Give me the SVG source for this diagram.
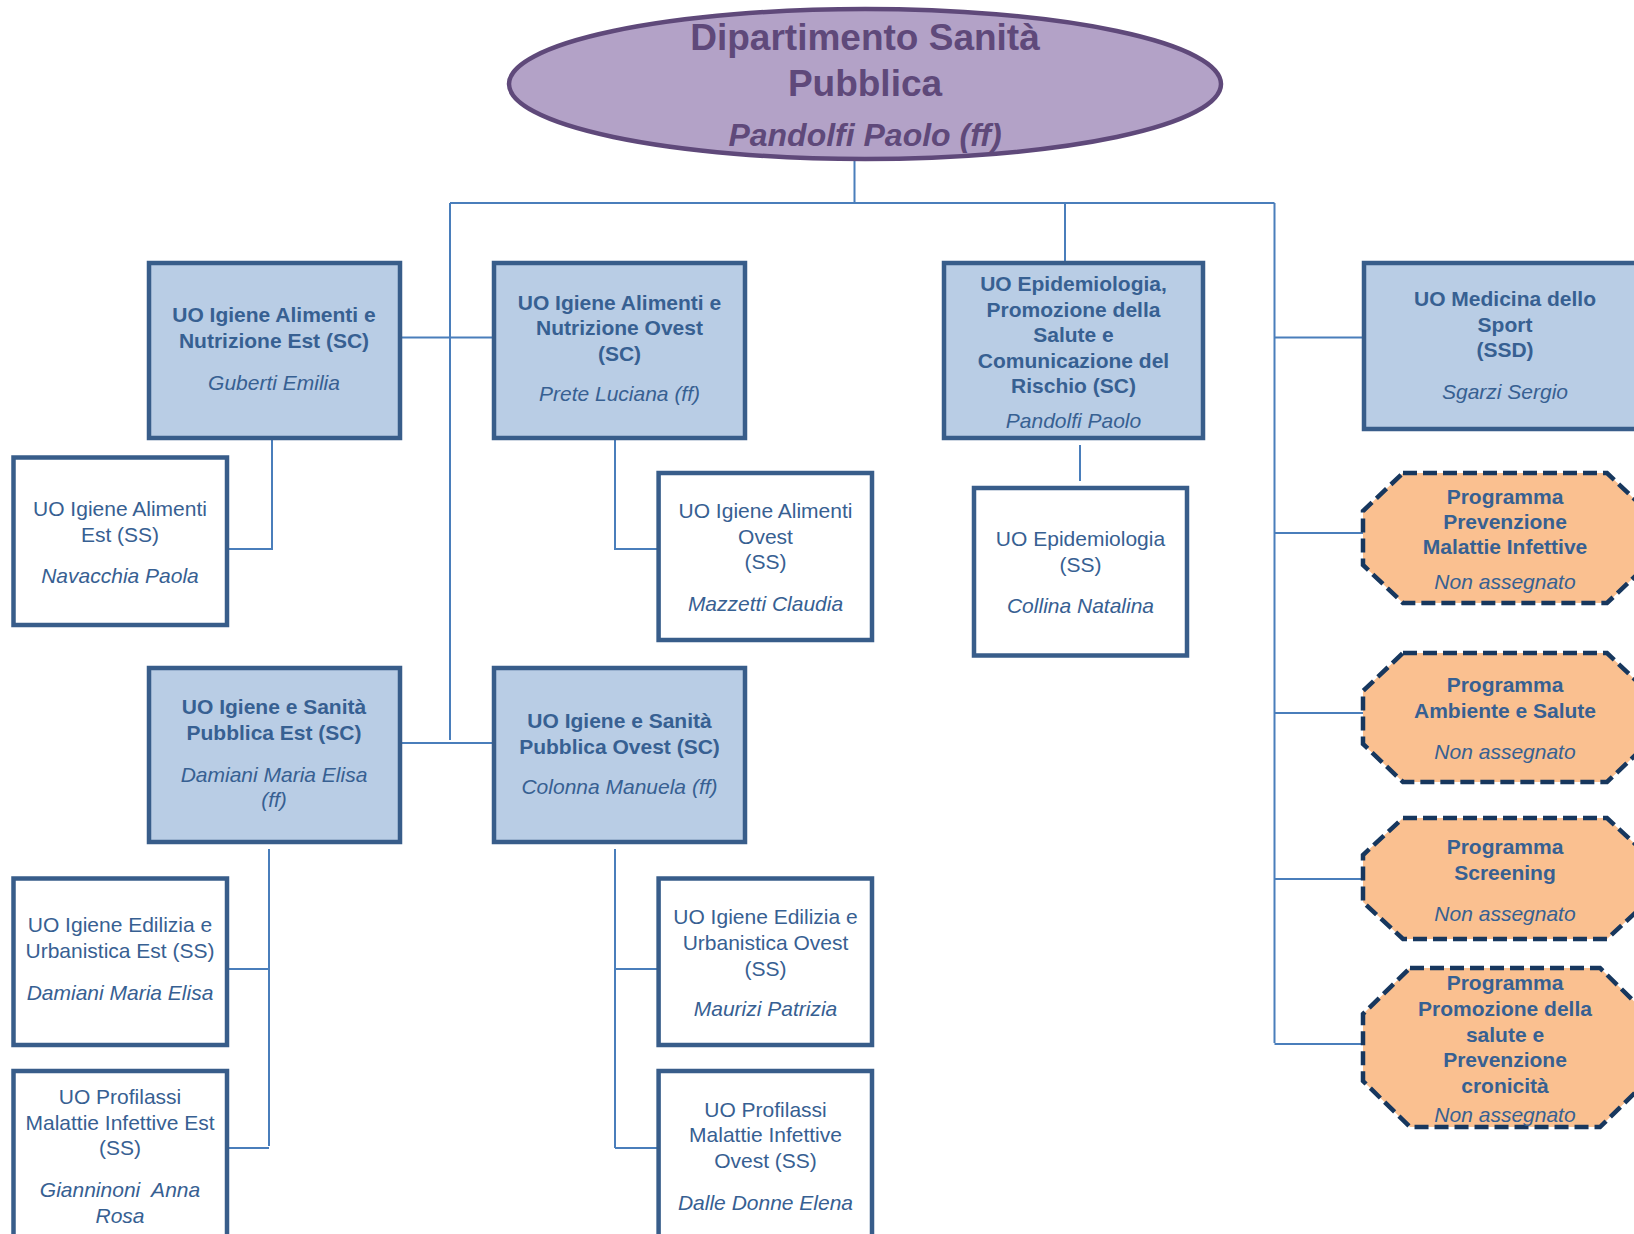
<svg xmlns="http://www.w3.org/2000/svg" width="1634" height="1234" viewBox="0 0 1634 1234">
<style>
text{font-family:"Liberation Sans",Arial,sans-serif;text-anchor:middle;}
.b{font-size:21px;font-weight:bold;fill:#376092;}
.r{font-size:21px;fill:#376092;}
.n{font-size:21px;font-style:italic;fill:#376092;}
.sc{fill:#B9CDE5;stroke:#385D8A;stroke-width:4.5;}
.ss{fill:#FFFFFF;stroke:#385D8A;stroke-width:4.5;}
.oc{fill:#FAC090;stroke:#17375E;stroke-width:4.5;stroke-dasharray:14 6;}
.c{fill:none;stroke:#4A7EBB;stroke-width:2;}
.t{fill:#5F497A;font-weight:bold;}
</style>
<rect width="1634" height="1234" fill="#FFFFFF"/>
<g id="connectors">
<path class="c" d="M854.5,159 V203 M450,203 H1274.5 M450,203 V740 M1065,203 V262 M1274.5,203 V1043"/>
<path class="c" d="M1274.5,337.6 H1364 M1274.5,533 H1363 M1274.5,713 H1363 M1274.5,879 H1363 M1274.5,1044 H1363"/>
<path class="c" d="M400,337.6 H494 M400,743 H494"/>
<path class="c" d="M272,438 V549 H227 M615,430 V549 H658.6 M1080,445 V481"/>
<path class="c" d="M269,849 V1146 M227,969 H269 M227,1148 H269 M615,849 V1148 M615,969 H658.6 M615,1148 H658.6"/>
</g>
<g id="dipartimento">
<ellipse cx="865" cy="84" rx="356" ry="75" fill="#B3A2C7" stroke="#5F497A" stroke-width="4.5"/>
<text class="t" x="865" y="50" font-size="37">Dipartimento Sanità</text>
<text class="t" x="865" y="96" font-size="37">Pubblica</text>
<text class="t" x="865" y="146" font-size="32" font-style="italic">Pandolfi Paolo (ff)</text>
</g>
<g id="ian-est">
<rect class="sc" x="149" y="263" width="251" height="175"/>
<text class="b" x="274" y="322">UO Igiene Alimenti e</text>
<text class="b" x="274" y="348">Nutrizione Est (SC)</text>
<text class="n" x="274" y="390">Guberti Emilia</text>
</g>
<g id="ian-ovest">
<rect class="sc" x="494" y="263" width="251" height="175"/>
<text class="b" x="619.5" y="310">UO Igiene Alimenti e</text>
<text class="b" x="619.5" y="335">Nutrizione Ovest</text>
<text class="b" x="619.5" y="361">(SC)</text>
<text class="n" x="619.5" y="401">Prete Luciana (ff)</text>
</g>
<g id="epidemiologia-sc">
<rect class="sc" x="944" y="263" width="259" height="175"/>
<text class="b" x="1073.5" y="291">UO Epidemiologia,</text>
<text class="b" x="1073.5" y="317">Promozione della</text>
<text class="b" x="1073.5" y="342">Salute e</text>
<text class="b" x="1073.5" y="368">Comunicazione del</text>
<text class="b" x="1073.5" y="393">Rischio (SC)</text>
<text class="n" x="1073.5" y="428">Pandolfi Paolo</text>
</g>
<g id="medicina-sport">
<rect class="sc" x="1364" y="263" width="290" height="166"/>
<text class="b" x="1505" y="306">UO Medicina dello</text>
<text class="b" x="1505" y="332">Sport</text>
<text class="b" x="1505" y="357">(SSD)</text>
<text class="n" x="1505" y="399">Sgarzi Sergio</text>
</g>
<g id="ia-est">
<rect class="ss" x="13.5" y="457.5" width="213.5" height="167.5"/>
<text class="r" x="120" y="516">UO Igiene Alimenti</text>
<text class="r" x="120" y="542">Est (SS)</text>
<text class="n" x="120" y="583">Navacchia Paola</text>
</g>
<g id="ia-ovest">
<rect class="ss" x="658.6" y="473" width="213.4" height="167"/>
<text class="r" x="765.5" y="518">UO Igiene Alimenti</text>
<text class="r" x="765.5" y="544">Ovest</text>
<text class="r" x="765.5" y="569">(SS)</text>
<text class="n" x="765.5" y="611">Mazzetti Claudia</text>
</g>
<g id="epidemiologia-ss">
<rect class="ss" x="974" y="488" width="213" height="167.5"/>
<text class="r" x="1080.5" y="546">UO Epidemiologia</text>
<text class="r" x="1080.5" y="572">(SS)</text>
<text class="n" x="1080.5" y="613">Collina Natalina</text>
</g>
<g id="isp-est">
<rect class="sc" x="149" y="668" width="251" height="174"/>
<text class="b" x="274" y="714">UO Igiene e Sanità</text>
<text class="b" x="274" y="740">Pubblica Est (SC)</text>
<text class="n" x="274" y="782">Damiani Maria Elisa</text>
<text class="n" x="274" y="807">(ff)</text>
</g>
<g id="isp-ovest">
<rect class="sc" x="494" y="668" width="251" height="174"/>
<text class="b" x="619.5" y="728">UO Igiene e Sanità</text>
<text class="b" x="619.5" y="754">Pubblica Ovest (SC)</text>
<text class="n" x="619.5" y="794">Colonna Manuela (ff)</text>
</g>
<g id="ieu-est">
<rect class="ss" x="13.5" y="878.5" width="213.5" height="166.5"/>
<text class="r" x="120" y="932">UO Igiene Edilizia e</text>
<text class="r" x="120" y="958">Urbanistica Est (SS)</text>
<text class="n" x="120" y="1000">Damiani Maria Elisa</text>
</g>
<g id="ieu-ovest">
<rect class="ss" x="658.6" y="878.5" width="213.4" height="166.5"/>
<text class="r" x="765.5" y="924">UO Igiene Edilizia e</text>
<text class="r" x="765.5" y="950">Urbanistica Ovest</text>
<text class="r" x="765.5" y="976">(SS)</text>
<text class="n" x="765.5" y="1016">Maurizi Patrizia</text>
</g>
<g id="pmi-est">
<rect class="ss" x="13.5" y="1071" width="213.5" height="175"/>
<text class="r" x="120" y="1104">UO Profilassi</text>
<text class="r" x="120" y="1130">Malattie Infettive Est</text>
<text class="r" x="120" y="1155">(SS)</text>
<text class="n" x="120" y="1197" style="white-space:pre">Gianninoni  Anna</text>
<text class="n" x="120" y="1223">Rosa</text>
</g>
<g id="pmi-ovest">
<rect class="ss" x="658.6" y="1071" width="213.4" height="175"/>
<text class="r" x="765.5" y="1117">UO Profilassi</text>
<text class="r" x="765.5" y="1142">Malattie Infettive</text>
<text class="r" x="765.5" y="1168">Ovest (SS)</text>
<text class="n" x="765.5" y="1210">Dalle Donne Elena</text>
</g>
<g id="prog-malattie">
<polygon class="oc" points="1403,473 1607,473 1647,511 1647,565 1607,603 1403,603 1363,565 1363,511"/>
<text class="b" x="1505" y="504">Programma</text>
<text class="b" x="1505" y="529">Prevenzione</text>
<text class="b" x="1505" y="554">Malattie Infettive</text>
<text class="n" x="1505" y="589">Non assegnato</text>
</g>
<g id="prog-ambiente">
<polygon class="oc" points="1403,653 1607,653 1647,691 1647,744 1607,782 1403,782 1363,744 1363,691"/>
<text class="b" x="1505" y="692">Programma</text>
<text class="b" x="1505" y="718">Ambiente e Salute</text>
<text class="n" x="1505" y="759">Non assegnato</text>
</g>
<g id="prog-screening">
<polygon class="oc" points="1403,818 1607,818 1647,855 1647,902 1607,939 1403,939 1363,902 1363,855"/>
<text class="b" x="1505" y="854">Programma</text>
<text class="b" x="1505" y="880">Screening</text>
<text class="n" x="1505" y="921">Non assegnato</text>
</g>
<g id="prog-promozione">
<polygon class="oc" points="1410,968 1600,968 1647,1014 1647,1081 1600,1127 1410,1127 1363,1081 1363,1014"/>
<text class="b" x="1505" y="990">Programma</text>
<text class="b" x="1505" y="1016">Promozione della</text>
<text class="b" x="1505" y="1042">salute e</text>
<text class="b" x="1505" y="1067">Prevenzione</text>
<text class="b" x="1505" y="1093">cronicità</text>
<text class="n" x="1505" y="1122">Non assegnato</text>
</g>
</svg>
